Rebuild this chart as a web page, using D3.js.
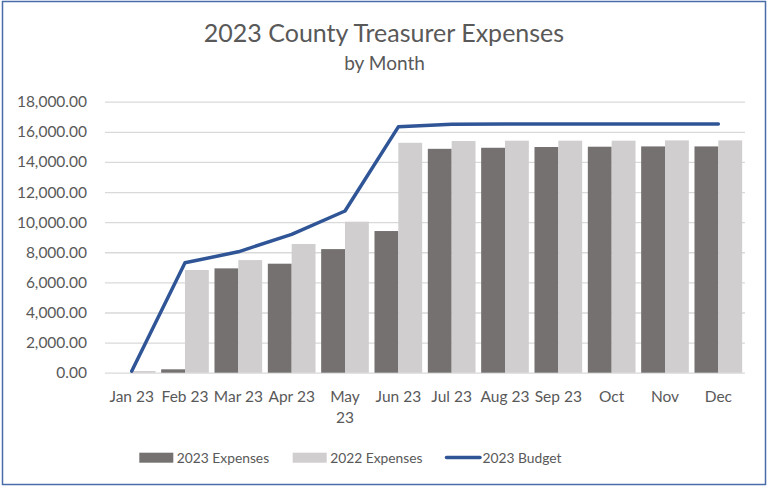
<!DOCTYPE html>
<html>
<head>
<meta charset="utf-8">
<script src="https://cdn.jsdelivr.net/npm/d3@7"></script>
<style>
  html, body { margin: 0; padding: 0; background: #fff; }
  svg { display: block; font-family: Lato, "Open Sans", sans-serif; }
</style>
</head>
<body>
<svg id="chart" width="768" height="486"></svg>
<script>
const months = ["Jan 23", "Feb 23", "Mar 23", "Apr 23", "May 23", "Jun 23", "Jul 23", "Aug 23", "Sep 23", "Oct", "Nov", "Dec"];
const expenses2023 = [0, 225, 6930, 7240, 8210, 9410, 14870, 14940, 14990, 15010, 15030, 15030];
const expenses2022 = [110, 6820, 7480, 8550, 10030, 15270, 15390, 15410, 15410, 15410, 15430, 15430];
const budget2023 = [100, 7300, 8030, 9190, 10740, 16330, 16510, 16520, 16520, 16520, 16520, 16520];
const yTicks = [0, 2000, 4000, 6000, 8000, 10000, 12000, 14000, 16000, 18000];
const seriesNames = ["2023 Expenses", "2022 Expenses", "2023 Budget"];
const titleText = "2023 County Treasurer Expenses";
const subtitleText = "by Month";

const W = 768, H = 486;
const margin = { left: 105, right: 23, top: 101.7, bottom: 113.3 };
const colors = { dark: "#767171", light: "#D0CECE", line: "#2F5597", grid: "#D9D9D9", text: "#595959", border: "#4A6DAA" };

const svg = d3.select("#chart");

svg.append("rect").attr("x", 2.5).attr("y", 1.5).attr("width", W - 5).attr("height", H - 3)
  .attr("fill", "#fff").attr("stroke", colors.border).attr("stroke-width", 1.5);

const x0 = d3.scaleBand().domain(months).range([margin.left, W - margin.right])
  .paddingInner(0.106).paddingOuter(0.053);
const x1 = d3.scaleBand().domain([0, 1]).range([0, x0.bandwidth()]);
const y = d3.scaleLinear().domain([0, 18000]).range([H - margin.bottom, margin.top]);

// gridlines
const gridG = svg.append("g")
  .attr("transform", `translate(${margin.left},0)`)
  .call(d3.axisLeft(y).tickValues(yTicks).tickSize(-(W - margin.right - margin.left)).tickFormat(""));
gridG.select(".domain").remove();
gridG.selectAll(".tick line").attr("stroke", colors.grid).attr("stroke-width", 1.3);

// y axis labels
const fmt = d3.format(",.2f");
const yAx = svg.append("g")
  .attr("transform", `translate(${margin.left - 18},0)`)
  .call(d3.axisLeft(y).tickValues(yTicks).tickSize(0).tickPadding(0).tickFormat(fmt));
yAx.select(".domain").remove();
yAx.selectAll("text").attr("fill", colors.text).style("font-size", "15.5px").style("font-family", "Lato, sans-serif");

// bars
const groups = svg.append("g").selectAll("g").data(months).join("g")
  .attr("transform", d => `translate(${x0(d)},0)`);
groups.append("rect")
  .attr("x", x1(0)).attr("width", x1.bandwidth())
  .attr("y", (d, i) => y(expenses2023[i]))
  .attr("height", (d, i) => y(0) - y(expenses2023[i]))
  .attr("fill", colors.dark);
groups.append("rect")
  .attr("x", x1(1)).attr("width", x1.bandwidth())
  .attr("y", (d, i) => y(expenses2022[i]))
  .attr("height", (d, i) => y(0) - y(expenses2022[i]))
  .attr("fill", colors.light);

// budget line
const line = d3.line()
  .x((d, i) => x0(months[i]) + x0.bandwidth() / 2)
  .y(d => y(d));
svg.append("path").datum(budget2023)
  .attr("d", line).attr("fill", "none")
  .attr("stroke", colors.line).attr("stroke-width", 3.5)
  .attr("stroke-linejoin", "round").attr("stroke-linecap", "round");

// x axis labels
const xAx = svg.append("g")
  .attr("transform", `translate(0,${y(0)})`)
  .call(d3.axisBottom(x0).tickSize(0).tickPadding(0));
xAx.select(".domain").remove();
xAx.selectAll("text").remove();
xAx.selectAll(".tick").each(function(d) {
  const t = d3.select(this).append("text")
    .attr("fill", colors.text).attr("text-anchor", "middle")
    .style("font-size", "15.5px").style("font-family", "Lato, sans-serif");
  if (d === "May 23") {
    t.append("tspan").attr("x", 0).attr("y", 29).text("May");
    t.append("tspan").attr("x", 0).attr("y", 50).text("23");
  } else {
    t.attr("y", 29).text(d);
  }
});

// title
svg.append("text").attr("x", 384).attr("y", 42).attr("text-anchor", "middle")
  .attr("fill", colors.text).style("font-size", "25px").text(titleText);
svg.append("text").attr("x", 384.5).attr("y", 70).attr("text-anchor", "middle")
  .attr("fill", colors.text).style("font-size", "19px").text(subtitleText);

// legend
const legend = svg.append("g");
const legendItems = [
  { name: seriesNames[0], type: "rect", color: colors.dark, x: 139.3 },
  { name: seriesNames[1], type: "rect", color: colors.light, x: 292.7 },
  { name: seriesNames[2], type: "line", color: colors.line, x: 445 }
];
legendItems.forEach(it => {
  if (it.type === "rect") {
    legend.append("rect").attr("x", it.x).attr("y", 452.7).attr("width", 34).attr("height", 10).attr("fill", it.color);
  } else {
    legend.append("line").attr("x1", it.x + 1.5).attr("x2", it.x + 35).attr("y1", 457.5).attr("y2", 457.5)
      .attr("stroke", it.color).attr("stroke-width", 3.5).attr("stroke-linecap", "round");
  }
  legend.append("text").attr("x", it.x + 37.5).attr("y", 462.5)
    .attr("fill", colors.text).style("font-size", "13.8px").text(it.name);
});
</script>
</body>
</html>
